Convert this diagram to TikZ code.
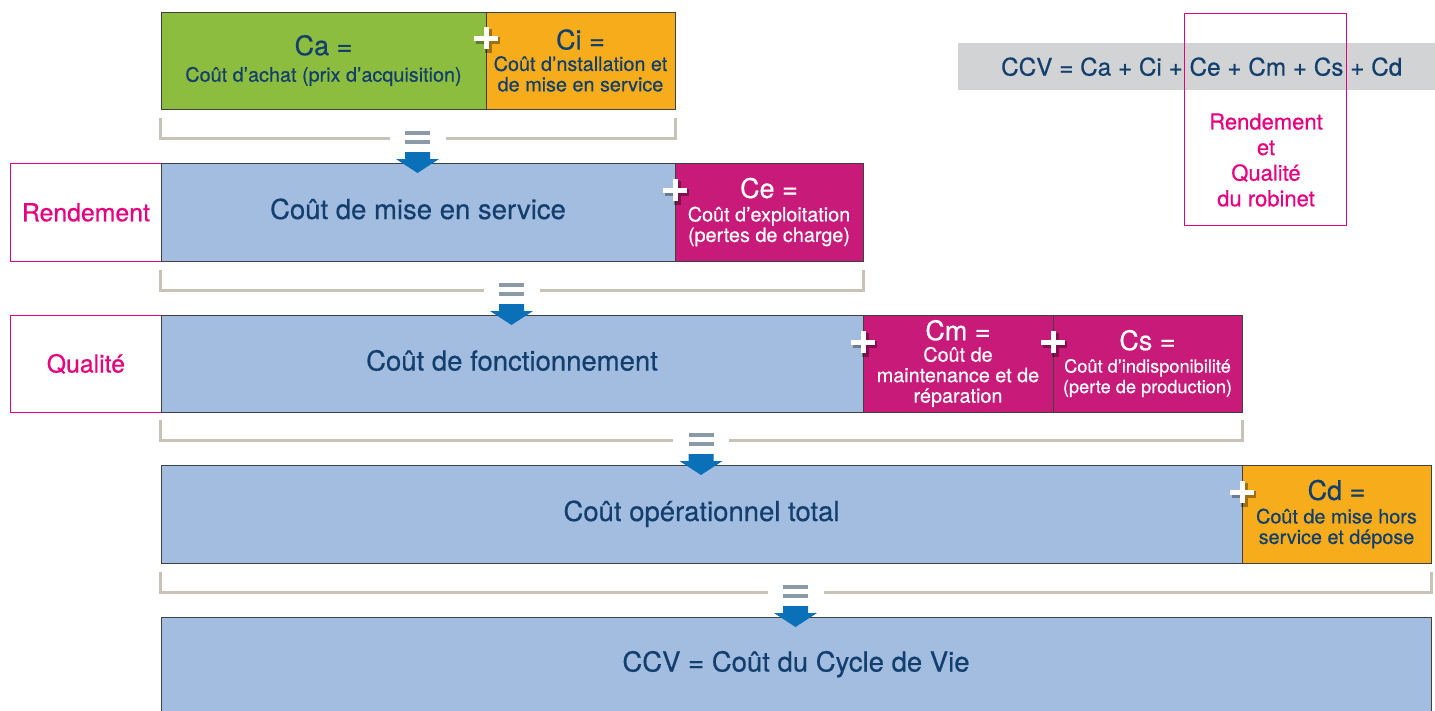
\documentclass[tikz,border=0pt]{standalone}
\usepackage{fontspec}
\setmainfont{TeX Gyre Heros}[FakeBold=0.5]
\usetikzlibrary{positioning}
\definecolor{navy}{HTML}{123F6D}
\definecolor{leaf}{HTML}{8DBD3F}
\definecolor{amber}{HTML}{F7AD1B}
\definecolor{sky}{HTML}{A3BDE1}
\definecolor{berry}{HTML}{C81A78}
\definecolor{rose}{HTML}{E6007E}
\definecolor{brace}{HTML}{C9C3B7}
\definecolor{bar}{HTML}{8C9AA8}
\definecolor{drop}{HTML}{0A71B9}
\definecolor{band}{HTML}{D1D3D4}
\newcommand{\ttl}[1]{{\fontsize{27}{27}\selectfont #1}}
\tikzset{
cost/.style={draw=black!75, line width=0.8pt, outer sep=0pt, inner sep=0pt, align=center, text=navy, font=\fontsize{19.8}{20.5}\selectfont}, % every coloured cost box
big/.style={font=\fontsize{27.5}{29}\selectfont, text height=20pt, text depth=6pt}, % text of a long blue box
side/.style={draw=rose, fill=white, line width=0.8pt, anchor=north west, minimum width=151pt, minimum height=98pt, text=rose, font=\fontsize{24.8}{26}\selectfont}, % Rendement / Qualite boxes
}
\begin{document}
\begin{tikzpicture}[x=1pt, y=-1pt]
  \useasboundingbox (0,0) rectangle (1435,710);
  % row 1
  \node[cost, anchor=north west, fill=leaf, minimum width=325pt, minimum height=97pt] (ca) at (161,12) {\ttl{Ca =}\\[6pt] Coût d’achat (prix d’acquisition)};
  \node[cost, fill=amber, minimum width=189pt, minimum height=97pt, right=0pt of ca] (ci) {\ttl{Ci =}\\[1pt] Coût d’nstallation et\\ de mise en service};
  % row 2
  \node[side] (rend) at (10,163) {Rendement};
  \node[cost, big, anchor=north west, fill=sky, minimum width=514pt, minimum height=98pt] (serv) at (161,163) {Coût de mise en service};
  \node[cost, fill=berry, text=white, minimum width=188pt, minimum height=98pt, right=0pt of serv] (ce) {\ttl{Ce =}\\[3pt] Coût d’exploitation\\ (pertes de charge)};
  % row 3
  \node[side, minimum height=97pt] (qual) at (10,315) {Qualité};
  \node[cost, big, anchor=north west, fill=sky, minimum width=702pt, minimum height=97pt] (fonct) at (161,315) {Coût de fonctionnement};
  \node[cost, fill=berry, text=white, minimum width=190pt, minimum height=97pt, right=0pt of fonct] (cm) {\ttl{Cm =}\\[1pt] Coût de\\ maintenance et de\\ réparation};
  \node[cost, fill=berry, text=white, font=\fontsize{18.2}{20.5}\selectfont, minimum width=189pt, minimum height=97pt, right=0pt of cm] (cs) {\ttl{Cs =}\\[2pt] Coût d’indisponibilité\\ (perte de production)};
  % row 4
  \node[cost, big, anchor=north west, fill=sky, minimum width=1081pt, minimum height=98pt] (oper) at (161,465) {Coût opérationnel total};
  \node[cost, fill=amber, minimum width=189pt, minimum height=98pt, right=0pt of oper] (cd) {\ttl{Cd =}\\[3pt] Coût de mise hors\\ service et dépose};
  % row 5
  \node[cost, big, text depth=21pt, anchor=north west, fill=sky, minimum width=1270pt, minimum height=110pt] (ccv) at (161,617) {CCV = Coût du Cycle de Vie};
  % formula and robinet box
  \node[fill=band, anchor=north west, minimum width=487pt, minimum height=47pt, inner sep=0pt, text=navy, font=\fontsize{24.3}{26}\selectfont] (formula) at (958,43) {CCV = Ca + Ci + Ce + Cm + Cs + Cd};
  \node[draw=rose, line width=1pt, anchor=north west, minimum width=162pt, minimum height=212pt, inner sep=0pt] (robinet) at (1184,13) {};
  \node[text=rose, align=center, font=\fontsize{22}{25.6}\selectfont] (robtxt) at (1266,160) {Rendement\\ et\\ Qualité\\ du robinet};
  % brackets, equals and arrows
  \foreach \xl/\xr/\yb in {160/675/138, 160/863/290, 160/1242/440, 160/1431/592} {
    \pgfmathsetmacro\c{(\xl+\xr)/2}
    \draw[brace, line width=3pt] (\xl,\yb-20) -- (\xl,\yb) -- (\c-28,\yb);
    \draw[brace, line width=3pt] (\c+28,\yb) -- (\xr,\yb) -- (\xr,\yb-20);
    \fill[bar] (\c-12.5,\yb-7) rectangle (\c+12.5,\yb-3);
    \fill[bar] (\c-12.5,\yb+2) rectangle (\c+12.5,\yb+6);
    \fill[drop] (\c-12.5,\yb+14) -- (\c+12.5,\yb+14) -- (\c+12.5,\yb+21) -- (\c+21.5,\yb+21)
      -- (\c,\yb+35) -- (\c-21.5,\yb+21) -- (\c-12.5,\yb+21) -- cycle;
  }
  % plus signs
  \foreach \px/\py in {486/38, 675/190, 863/342, 1053/342, 1242/492} {
    \draw[black, opacity=.35, line width=7pt] (\px-10,\py+2) -- (\px+14,\py+2) (\px+2,\py-9) -- (\px+2,\py+15);
    \draw[white, line width=5pt] (\px-12,\py) -- (\px+12,\py) (\px,\py-11) -- (\px,\py+11);
  }
\end{tikzpicture}
\end{document}
